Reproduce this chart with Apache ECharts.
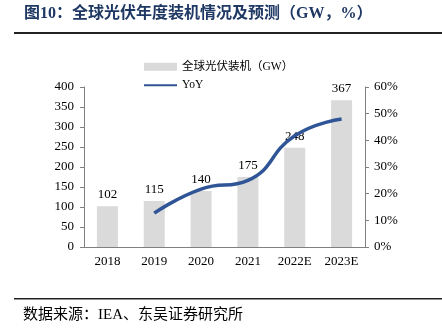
<!DOCTYPE html>
<html>
<head>
<meta charset="utf-8">
<script src="https://cdn.jsdelivr.net/npm/echarts@6/dist/echarts.min.js"></script>
<style>
  html, body { margin: 0; padding: 0; background: #fff; }
  #chart { width: 442px; height: 332px; }
</style>
</head>
<body>
<div id="chart"></div>
<script>
// Annual global PV installations (GW) and year-on-year growth (%)
const years = ['2018', '2019', '2020', '2021', '2022E', '2023E'];
const installedGW = [102, 115, 140, 175, 248, 367];
const yoyPct = ['-', 12.7, 21.7, 25.0, 41.7, 48.0];
const leftTicks = { min: 0, max: 400, interval: 50 };
const rightTicks = { min: 0, max: 60, interval: 10 };

const serif = '"Liberation Serif", "Times New Roman", "Noto Sans CJK SC", serif';
const cjk = '"Liberation Serif", "Noto Sans CJK SC", serif';
const blue = '#2f5597';

const chart = echarts.init(document.getElementById('chart'), null, { renderer: 'canvas' });

chart.setOption({
  animation: false,
  backgroundColor: '#ffffff',
  grid: { left: 84, right: 77, top: 87, bottom: 85, containLabel: false },
  legend: {
    orient: 'vertical',
    left: 138,
    top: 56,
    itemWidth: 33,
    itemHeight: 8,
    itemGap: 7,
    textStyle: { fontFamily: cjk, fontSize: 11.5, color: '#000' },
    data: [
      { name: '全球光伏装机（GW）', icon: 'rect' },
      { name: 'YoY', itemStyle: { opacity: 0 } }
    ]
  },
  xAxis: {
    type: 'category',
    data: years,
    axisLine: { lineStyle: { color: '#808080', width: 1 } },
    axisTick: { inside: true, length: 4, lineStyle: { color: '#808080' } },
    axisLabel: { fontFamily: serif, fontSize: 13, color: '#000', margin: 8 }
  },
  yAxis: [
    {
      type: 'value',
      min: leftTicks.min, max: leftTicks.max, interval: leftTicks.interval,
      splitLine: { show: false },
      axisLine: { show: true, lineStyle: { color: '#808080' } },
      axisTick: { show: true, length: 4, lineStyle: { color: '#808080' } },
      axisLabel: { fontFamily: serif, fontSize: 13, color: '#000', margin: 10 }
    },
    {
      type: 'value',
      position: 'right',
      min: rightTicks.min, max: rightTicks.max, interval: rightTicks.interval,
      splitLine: { show: false },
      axisLine: { show: true, lineStyle: { color: '#808080' } },
      axisTick: { show: true, length: 4, lineStyle: { color: '#808080' } },
      axisLabel: { fontFamily: serif, fontSize: 13, color: '#000', margin: 9, formatter: '{value}%' }
    }
  ],
  series: [
    {
      name: '全球光伏装机（GW）',
      type: 'bar',
      data: installedGW,
      barWidth: 21,
      itemStyle: { color: '#dadada' },
      label: {
        show: true, position: 'top', distance: 5,
        fontFamily: serif, fontSize: 13, color: '#000'
      }
    },
    {
      name: 'YoY',
      type: 'line',
      yAxisIndex: 1,
      zlevel: 1,
      data: yoyPct,
      smooth: true,
      symbol: 'none',
      lineStyle: { color: blue, width: 3.5 },
      itemStyle: { color: blue }
    }
  ],
  graphic: [
    {
      type: 'text', left: 24, top: 6,
      style: {
        text: '图10：全球光伏年度装机情况及预测（GW，%）',
        fontFamily: '"Liberation Serif", "Noto Sans CJK SC", serif',
        fontSize: 16, fontWeight: 'bold', fill: '#1f3864'
      }
    },
    {
      type: 'rect', shape: { x: 14, y: 32, width: 428, height: 2 },
      style: { fill: '#222' }
    },
    {
      type: 'rect', shape: { x: 14, y: 298, width: 428, height: 1.5 },
      style: { fill: '#222' }
    },
    {
      type: 'text', left: 23, top: 308,
      style: {
        text: '数据来源：IEA、东吴证券研究所',
        fontFamily: cjk, fontSize: 15, fill: '#000'
      }
    }
  ]
});
</script>
</body>
</html>
